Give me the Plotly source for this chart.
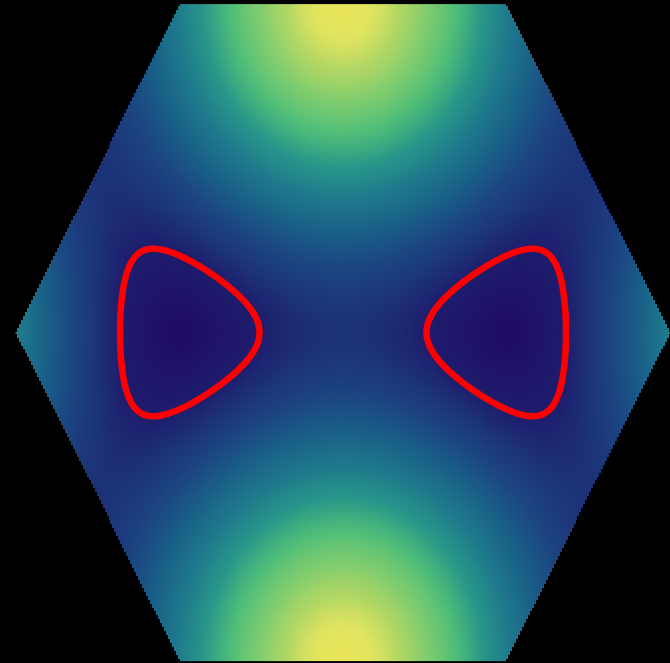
import numpy as np
import plotly.graph_objects as go

# Honeycomb tight-binding model: |f(k)| over the hexagonal Brillouin zone
hoppings = [1.0, 1.0, 1.0]          # t1, t2, t3
bond_signs = [1.0, -1.0, -1.0]      # sign of each hopping term
contour_level = [0.72]              # red iso-energy line
zone_vertex = 1.0                   # K point on the kx axis
grid_points = 331

# colour stops for |f| normalised to its maximum
color_positions = [0.0, 0.24, 0.333, 0.44, 0.543, 0.65, 0.75, 0.838, 0.91, 0.96, 0.99, 1.0]
color_values = [
    "rgb(32,10,100)", "rgb(30,28,108)", "rgb(28,50,120)", "rgb(28,70,130)",
    "rgb(25,95,135)", "rgb(30,120,140)", "rgb(40,150,137)", "rgb(80,190,120)",
    "rgb(130,205,110)", "rgb(180,215,100)", "rgb(225,228,95)", "rgb(233,229,90)",
]

# lattice vectors dual to the hexagonal zone (K at (1,0), flat edges at ky = ±√3/2)
a1 = np.array([4 * np.pi / 3, 0.0])
a2 = np.array([-2 * np.pi / 3, 2 * np.pi / np.sqrt(3)])
a3 = a1 + a2

edge = np.sqrt(3) / 2 * zone_vertex
kx = np.linspace(-zone_vertex, zone_vertex, grid_points)
ky = np.linspace(-edge, edge, grid_points)
KX, KY = np.meshgrid(kx, ky)

t1, t2, t3 = hoppings
s1, s2, s3 = bond_signs
f = (s1 * t1
     + s2 * t2 * np.exp(1j * (KX * a2[0] + KY * a2[1]))
     + s3 * t3 * np.exp(1j * (KX * a3[0] + KY * a3[1])))
energy = np.abs(f)

inside = (np.abs(KY) <= edge + 1e-12) & (np.abs(KY) <= np.sqrt(3) * (zone_vertex - np.abs(KX)) + 1e-9)
z = np.where(inside, energy, np.nan)
zmax = sum(hoppings)

fig = go.Figure()
fig.add_trace(go.Heatmap(
    x=kx, y=ky, z=z,
    zmin=0, zmax=zmax,
    colorscale=[[p, c] for p, c in zip(color_positions, color_values)],
    showscale=False, zsmooth=False, hoverinfo="skip",
))
fig.add_trace(go.Contour(
    x=kx, y=ky, z=z,
    contours=dict(start=contour_level[0], end=contour_level[0], size=1.0, coloring="none"),
    line=dict(color="red", width=6.5, smoothing=1.0),
    connectgaps=False,
    showscale=False, hoverinfo="skip",
))

fig.update_layout(
    width=670, height=663,
    margin=dict(l=0, r=0, t=0, b=0),
    paper_bgcolor="black", plot_bgcolor="black",
    showlegend=False,
)
fig.update_xaxes(range=[-1.0505, 1.0015], visible=False, showgrid=False, zeroline=False)
fig.update_yaxes(range=[-0.8745, 0.8795], visible=False, showgrid=False, zeroline=False)

fig.write_html("out.html")
